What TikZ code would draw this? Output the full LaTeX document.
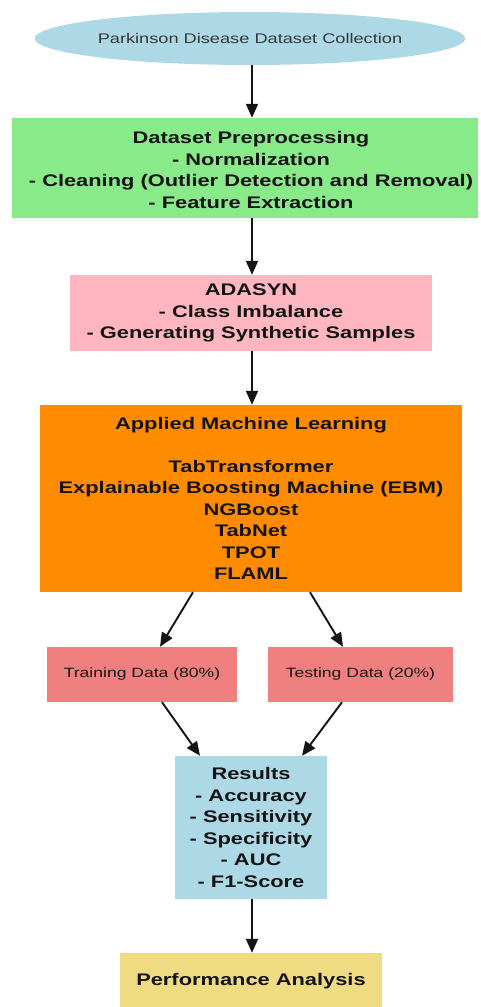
\documentclass[tikz,border=0pt]{standalone}
\usepackage{fontspec}
\setmainfont{Liberation Sans}[FakeStretch=1.3]
\usetikzlibrary{arrows.meta,shapes.geometric}
\definecolor{cblue}{HTML}{ADD8E6}
\definecolor{cgreen}{HTML}{88EA88}
\definecolor{cpink}{HTML}{FFB6C1}
\definecolor{corange}{HTML}{FF8C00}
\definecolor{ccoral}{HTML}{F08080}
\definecolor{cgold}{HTML}{EEDB82}
\definecolor{ctext}{HTML}{141414}
\begin{document}
\begin{tikzpicture}[x=1pt,y=-1pt,
  boxb/.style={rectangle, inner sep=0pt, align=center, text=ctext,
    font=\fontsize{16.8}{21.5}\selectfont\bfseries},
  boxr/.style={rectangle, inner sep=0pt, align=center, text=ctext,
    font=\fontsize{13.5}{16}\selectfont},
  arr/.style={line width=1.9pt, draw=ctext, -{Triangle[length=14pt,width=12pt]}}
]
\useasboundingbox[fill=white] (0,0) rectangle (480,1007);

\node[ellipse, fill=cblue, minimum width=404pt, minimum height=53pt, inner sep=0pt,
  text=ctext!85, font=\fontsize{14}{16}\selectfont] (src) at (250,38.5)
  {Parkinson Disease Dataset Collection};

\node[rectangle, fill=cgreen, minimum width=466pt, minimum height=100pt, inner sep=0pt] (prep) at (245,168) {};
\node[boxb] (preptext) at (251,170)
  {Dataset Preprocessing\\- Normalization\\- Cleaning (Outlier Detection and Removal)\\- Feature Extraction};

\node[boxb, fill=cpink, minimum width=362pt, minimum height=76pt] (ada) at (251,313)
  {ADASYN\\- Class Imbalance\\- Generating Synthetic Samples};

\node[boxb, fill=corange, minimum width=422pt, minimum height=187pt] (ml) at (251,498.5)
  {Applied Machine Learning\\[21.5pt]TabTransformer\\Explainable Boosting Machine (EBM)\\NGBoost\\TabNet\\TPOT\\FLAML};

\node[boxr, fill=ccoral, minimum width=190pt, minimum height=55pt] (train) at (142,674.5)
  {Training Data (80\%)};
\node[boxr, fill=ccoral, minimum width=185pt, minimum height=55pt] (test) at (360.5,674.5)
  {Testing Data (20\%)};

\node[boxb, fill=cblue, minimum width=152pt, minimum height=143pt] (res) at (251,827.5)
  {Results\\- Accuracy\\- Sensitivity\\- Specificity\\- AUC\\- F1-Score};

\node[boxb, fill=cgold, minimum width=262pt, minimum height=56pt] (perf) at (251,981)
  {Performance Analysis};

\draw[arr] ([xshift=2pt]src.south) -- ([xshift=7pt]prep.north);
\draw[arr] ([xshift=7pt]prep.south) -- ([xshift=1pt]ada.north);
\draw[arr] ([xshift=1pt]ada.south) -- ([xshift=1pt]ml.north);
\draw[arr] ([xshift=-58pt]ml.south) -- ([xshift=18pt]train.north);
\draw[arr] ([xshift=59pt]ml.south) -- ([xshift=-17.5pt]test.north);
\draw[arr] ([xshift=20pt]train.south) -- ([xshift=-51pt]res.north);
\draw[arr] ([xshift=-18.5pt]test.south) -- ([xshift=51pt]res.north);
\draw[arr] ([xshift=1pt]res.south) -- ([xshift=1pt]perf.north);
\end{tikzpicture}
\end{document}
